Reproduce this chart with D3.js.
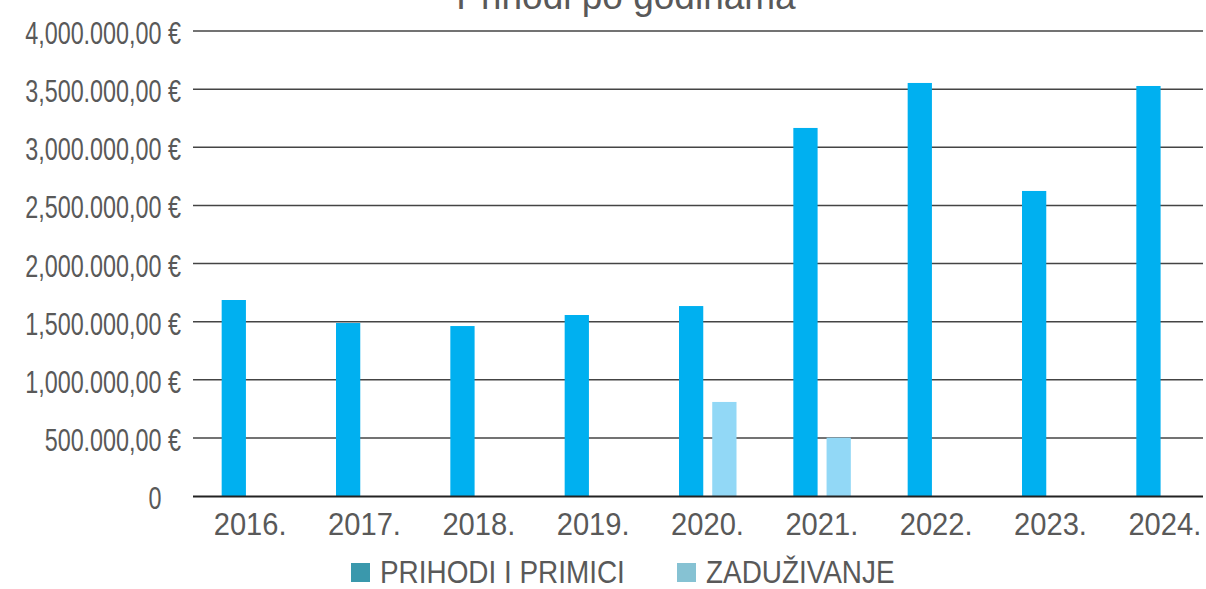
<!DOCTYPE html>
<html>
<head>
<meta charset="utf-8">
<script src="https://cdn.jsdelivr.net/npm/d3@7"></script>
<style>
  body { margin: 0; background: #fff; }
  svg { display: block; }
  text { font-family: "Liberation Sans", Arial, sans-serif; fill: #595959; }
</style>
</head>
<body>
<svg id="chart" width="1206" height="589"></svg>
<script>
// data
const years = ["2016.", "2017.", "2018.", "2019.", "2020.", "2021.", "2022.", "2023.", "2024."];
const prihodi = [1686000, 1488000, 1462000, 1557000, 1634000, 3166000, 3553000, 2624000, 3527000];
const zaduzivanje = [0, 0, 0, 0, 809000, 502000, 0, 0, 0];
const seriesNames = ["PRIHODI I PRIMICI", "ZADUŽIVANJE"];
const barColors = ["#00b0f0", "#92d8f6"];
const legendColors = ["#3a98ac", "#86c2d3"];
const yTicks = [0, 500000, 1000000, 1500000, 2000000, 2500000, 3000000, 3500000, 4000000];

const svg = d3.select("#chart");

const x0 = d3.scaleBand().domain(years).range([193, 1222]).paddingInner(0).paddingOuter(0);
const x1 = d3.scaleBand().domain([0, 1]).range([x0.bandwidth() / 2 - 28.5, x0.bandwidth() / 2 + 29]).paddingInner(0.27);
const y = d3.scaleLinear().domain([0, 4000000]).range([496, 31]);

// number format like 4,000.000,00 € / 500.000,00 €
function fmt(v) {
  if (v === 0) return "0";
  const s = d3.format(",.2f")(v);           // 4,000,000.00
  const [intPart, dec] = s.split(".");
  const g = intPart.split(",");
  let out = g[0];
  for (let i = 1; i < g.length; i++) {
    out += (i === g.length - 1 ? "." : ",") + g[i];
  }
  return out + "," + dec;
}

// title (cut off at top, as in the original)
svg.append("text")
  .attr("x", 626).attr("y", 9)
  .attr("text-anchor", "middle")
  .style("font-size", "37px")
  .text("Prihodi po godinama");

// gridlines
svg.append("g")
  .selectAll("line")
  .data(yTicks.filter(d => d > 0))
  .join("line")
  .attr("x1", 193).attr("x2", 1203)
  .attr("y1", d => y(d)).attr("y2", d => y(d))
  .attr("stroke", "#444").attr("stroke-width", 1.5);

// y labels
const yl = svg.append("g");
yTicks.forEach(t => {
  const tx = yl.append("text")
    .attr("transform", `translate(181,${y(t) + 13}) scale(0.73,1)`)
    .attr("text-anchor", "end")
    .style("font-size", "32px");
  tx.append("tspan").text(fmt(t));
  if (t === 0) tx.append("tspan").attr("fill-opacity", 0).text(" €");
  else tx.append("tspan").text(" €");
});

// bars
const groups = svg.append("g")
  .selectAll("g")
  .data(years.map((yr, i) => ({yr, vals: [prihodi[i], zaduzivanje[i]]})))
  .join("g")
  .attr("transform", d => `translate(${x0(d.yr)},0)`);

groups.selectAll("rect")
  .data(d => d.vals.map((v, k) => ({k, v})).filter(e => e.v > 0))
  .join("rect")
  .attr("x", e => x1(e.k))
  .attr("width", x1.bandwidth())
  .attr("y", e => y(e.v))
  .attr("height", e => y(0) - y(e.v))
  .attr("fill", e => barColors[e.k]);

// base axis
svg.append("line")
  .attr("x1", 193).attr("x2", 1203)
  .attr("y1", y(0) + 0.5).attr("y2", y(0) + 0.5)
  .attr("stroke", "#222").attr("stroke-width", 2);

// x labels
svg.append("g")
  .selectAll("text")
  .data(years)
  .join("text")
  .attr("transform", d => `translate(${x0(d) + x0.bandwidth() / 2},535) scale(0.91,1)`)
  .attr("text-anchor", "middle")
  .style("font-size", "32px")
  .text(d => d);

// legend
const legX = [351, 677];
const leg = svg.append("g");
seriesNames.forEach((name, i) => {
  leg.append("rect")
    .attr("x", legX[i]).attr("y", 563)
    .attr("width", 19).attr("height", 19)
    .attr("fill", legendColors[i]);
  leg.append("text")
    .attr("transform", `translate(${legX[i] + 29},583) scale(0.9,1)`)
    .style("font-size", "31px")
    .text(name);
});
</script>
</body>
</html>
